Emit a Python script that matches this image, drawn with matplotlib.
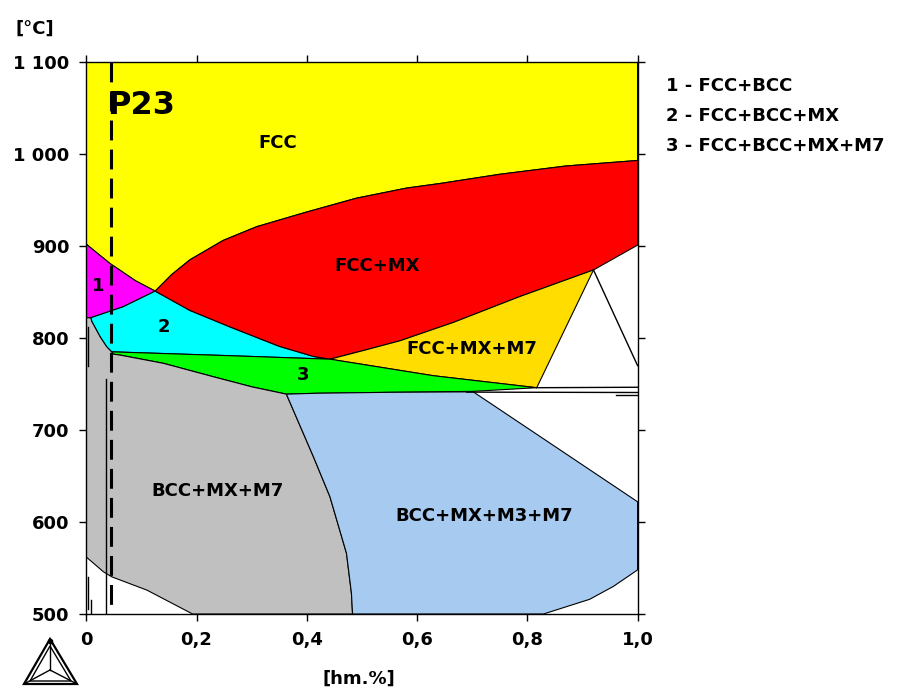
import matplotlib
matplotlib.use("Agg")
import matplotlib.pyplot as plt
from matplotlib.patches import Polygon

# Phase boundaries, (x [hm.%], T [degC])
yellow_magenta = [(0.0, 902), (0.043, 881), (0.09, 862), (0.125, 851)]
yellow_red = [(0.125, 851), (0.155, 869), (0.188, 885), (0.248, 906), (0.309, 921),
              (0.40, 937), (0.49, 952), (0.581, 963), (0.642, 968), (0.75, 978),
              (0.87, 987), (1.0, 993)]
magenta_cyan = [(0.125, 851), (0.067, 834), (0.008, 822)]
cyan_red = [(0.125, 851), (0.188, 830), (0.261, 812), (0.35, 791), (0.412, 780), (0.442, 777)]
cyan_green = [(0.442, 777), (0.25, 781), (0.046, 785)]
cyan_gray = [(0.046, 785), (0.037, 790.5), (0.025, 801.5), (0.010, 818), (0.008, 822)]
red_white = [(1.0, 901), (0.92, 874)]
red_gold = [(0.92, 874), (0.786, 845), (0.666, 817), (0.569, 797), (0.50, 786), (0.442, 777)]
gold_white = [(0.92, 874), (0.817, 746)]
gold_green = [(0.817, 746), (0.63, 759), (0.442, 777)]
green_blue = [(0.817, 746), (0.70, 742), (0.55, 741), (0.42, 740), (0.363, 739)]
green_gray = [(0.363, 739), (0.30, 747), (0.23, 758), (0.14, 772.5), (0.061, 781.5),
              (0.049, 782.5), (0.046, 785)]
gray_blue = [(0.363, 739), (0.412, 671), (0.442, 627.5), (0.472, 566), (0.481, 522.5), (0.483, 500)]
gray_white = [(0.193, 500), (0.11, 526), (0.046, 540.5), (0.031, 546), (0.0, 562)]
blue_top = [(0.363, 739), (0.42, 740), (0.55, 741), (0.702, 741.5)]
blue_white_upper = [(0.702, 741.5), (0.823, 693), (1.0, 622)]
blue_white_lower = [(1.0, 548), (0.956, 530), (0.913, 516), (0.829, 500)]

# other boundary lines inside the white areas
extra_lines = [
    [(0.92, 874), (1.0, 770)],
    [(0.817, 746), (1.0, 746.5)],
    [(0.69, 741.2), (1.0, 740.8)],
    [(0.96, 738.3), (1.0, 738.3)],
    [(0.036, 756), (0.036, 500)],
    [(0.003, 812), (0.003, 770)],
    [(0.004, 540), (0.004, 505)],
    [(0.008, 515), (0.008, 500)],
]

alloy_x = 0.045
alloy_name = "P23"

region_names = ["FCC", "FCC+MX", "FCC+MX+M7", "1", "2", "3", "BCC+MX+M7", "BCC+MX+M3+M7"]
region_pos = [(0.348, 1012), (0.527, 878), (0.700, 788), (0.022, 857), (0.140, 812),
              (0.394, 760), (0.238, 634), (0.721, 607)]

legend_lines = ["1 - FCC+BCC", "2 - FCC+BCC+MX", "3 - FCC+BCC+MX+M7"]

x_ticks = [0, 0.2, 0.4, 0.6, 0.8, 1.0]
x_ticklabels = ["0", "0,2", "0,4", "0,6", "0,8", "1,0"]
y_ticks = [500, 600, 700, 800, 900, 1000, 1100]
y_ticklabels = ["500", "600", "700", "800", "900", "1 000", "1 100"]


def rev(pts):
    return pts[::-1]


regions = [
    ("#FFFF00", [(0.0, 1100), (1.0, 1100)] + rev(yellow_red) + rev(yellow_magenta)),
    ("#FF00FF", yellow_magenta + magenta_cyan + [(0.0, 822)]),
    ("#00FFFF", cyan_red + cyan_green + cyan_gray + rev(magenta_cyan)),
    ("#FF0000", yellow_red + red_white + red_gold + rev(cyan_red)),
    ("#FFDD00", gold_white + gold_green + rev(red_gold)),
    ("#00FF00", rev(cyan_green) + rev(gold_green) + green_blue + green_gray),
    ("#C0C0C0", rev(green_gray) + gray_blue + gray_white + [(0.0, 822)] + rev(cyan_gray)),
    ("#A6CAF0", blue_top + blue_white_upper + blue_white_lower + rev(gray_blue)),
]

plt.rcParams["font.family"] = "DejaVu Sans"
plt.rcParams["font.weight"] = "bold"

fig = plt.figure(figsize=(9.08, 6.9), dpi=100)
ax = fig.add_axes([0.0950, 0.1101, 0.6072, 0.8])

for color, pts in regions:
    ax.add_patch(Polygon(pts, closed=True, facecolor=color, edgecolor="black", lw=0.8))

for seg in extra_lines:
    xs, ts = zip(*seg)
    ax.plot(xs, ts, color="black", lw=1.0)

# dashed alloy line, drawn from the top down so the first dash starts at 1100
ax.plot([alloy_x, alloy_x], [1100, 500], color="black", lw=2.2,
        linestyle=(0, (6.5, 3)), clip_on=True)
ax.text(0.0375, 1053, alloy_name, fontsize=23, fontweight="bold", ha="left", va="center")

for name, (x, t) in zip(region_names, region_pos):
    ax.text(x, t, name, fontsize=13, fontweight="bold", ha="center", va="center")

ax.set_xlim(0, 1.0)
ax.set_ylim(500, 1100)
ax.set_xticks(x_ticks)
ax.set_xticklabels(x_ticklabels)
ax.set_yticks(y_ticks)
ax.set_yticklabels(y_ticklabels)
ax.tick_params(axis="both", direction="out", length=5, width=1, labelsize=13,
               top=True, right=True)
ax.tick_params(axis="x", pad=7)
ax.tick_params(axis="y", pad=7)
for lab in ax.get_xticklabels() + ax.get_yticklabels():
    lab.set_fontweight("bold")
for sp in ax.spines.values():
    sp.set_linewidth(1.0)

fig.text(0.0385, 0.959, "[°C]", fontsize=13, fontweight="bold", ha="center", va="center")
fig.text(0.395, 0.016, "[hm.%]", fontsize=13, fontweight="bold", ha="center", va="center")

for i, line in enumerate(legend_lines):
    fig.text(0.734, 0.875 - i * 0.0435, line, fontsize=13, fontweight="bold",
             ha="left", va="center")

# small triangle logo in the lower left corner (pixel coords)
logo = fig.add_axes([20 / 908, 1 - 688 / 690, 62 / 908, 52 / 690])
logo.set_xlim(20, 82)
logo.set_ylim(688, 636)
logo.axis("off")
cx, cy = 50, 670
outer = [(24, 684), (50, 639), (77, 684)]
inner = [(30, 681), (50, 646), (71, 681)]
logo.add_patch(Polygon(outer, closed=True, fill=False, edgecolor="black", lw=1.6))
logo.add_patch(Polygon(inner, closed=True, fill=False, edgecolor="black", lw=1.0))
for vx, vy in outer:
    logo.plot([cx, vx], [cy, vy], color="black", lw=1.0)
logo.plot([50], [641], marker="o", color="black", ms=3)

fig.savefig("out.png", dpi=100)
